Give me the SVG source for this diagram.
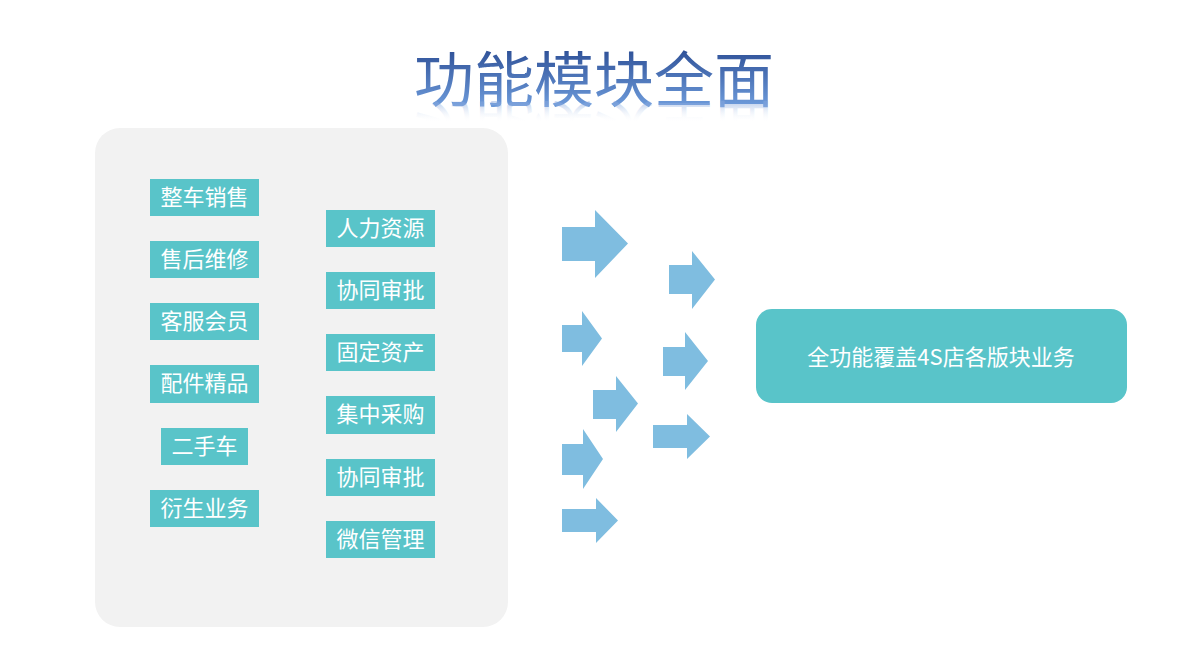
<svg xmlns="http://www.w3.org/2000/svg" width="1189" height="663" viewBox="0 0 1189 663">
<style>
.tag{fill:#59c4c9}
.tt{font-family:"Noto Sans CJK SC","Liberation Sans",sans-serif;font-size:22px;fill:#ffffff;text-anchor:middle}
.arr{fill:#7fbde0}
.title{font-family:"Noto Sans CJK SC","Liberation Sans",sans-serif;font-size:60px;text-anchor:middle}
</style>
<defs>
<linearGradient id="tg" x1="0" y1="48" x2="0" y2="104" gradientUnits="userSpaceOnUse">
<stop offset="0" stop-color="#2d4f96"/>
<stop offset="1" stop-color="#6b98d8"/>
</linearGradient>
<linearGradient id="rg" x1="0" y1="104" x2="0" y2="86" gradientUnits="userSpaceOnUse">
<stop offset="0" stop-color="#8aa9dd" stop-opacity="0.45"/>
<stop offset="1" stop-color="#ffffff" stop-opacity="0"/>
</linearGradient>
</defs>
<rect width="1189" height="663" fill="#ffffff"/>
<g id="title">
<text class="title" x="594" y="102" fill="url(#tg)">功能模块全面</text>
<g transform="translate(0,208) scale(1,-1)"><text class="title" x="594" y="102" fill="url(#rg)">功能模块全面</text></g>
</g>
<g id="panel"><rect x="95" y="128" width="413" height="499" rx="25" fill="#f2f2f2"/></g>
<g id="n1"><rect class="tag" x="150" y="179" width="109" height="37"/><text class="tt" x="204.5" y="205">整车销售</text></g>
<g id="n2"><rect class="tag" x="150" y="241" width="109" height="37"/><text class="tt" x="204.5" y="267">售后维修</text></g>
<g id="n3"><rect class="tag" x="150" y="303" width="109" height="37"/><text class="tt" x="204.5" y="329">客服会员</text></g>
<g id="n4"><rect class="tag" x="150" y="365" width="109" height="38"/><text class="tt" x="204.5" y="391">配件精品</text></g>
<g id="n5"><rect class="tag" x="161" y="428" width="87" height="37"/><text class="tt" x="204.5" y="454">二手车</text></g>
<g id="n6"><rect class="tag" x="150" y="490" width="109" height="37"/><text class="tt" x="204.5" y="516">衍生业务</text></g>
<g id="m1"><rect class="tag" x="326" y="210" width="109" height="37"/><text class="tt" x="380.5" y="236">人力资源</text></g>
<g id="m2"><rect class="tag" x="326" y="272" width="109" height="37"/><text class="tt" x="380.5" y="298">协同审批</text></g>
<g id="m3"><rect class="tag" x="326" y="334" width="109" height="37"/><text class="tt" x="380.5" y="360">固定资产</text></g>
<g id="m4"><rect class="tag" x="326" y="396" width="109" height="38"/><text class="tt" x="380.5" y="422">集中采购</text></g>
<g id="m5"><rect class="tag" x="326" y="459" width="109" height="37"/><text class="tt" x="380.5" y="485">协同审批</text></g>
<g id="m6"><rect class="tag" x="326" y="521" width="109" height="37"/><text class="tt" x="380.5" y="547">微信管理</text></g>
<g id="connectors">
<polygon class="arr" points="562,227 595,227 595,210 628,243.5 595,278 595,261 562,261"/>
<polygon class="arr" points="562,325 582,325 582,311 602,338.5 582,366 582,352 562,352"/>
<polygon class="arr" points="593,390 616,390 616,376 638,403.5 616,432 616,419 593,419"/>
<polygon class="arr" points="562,444 583,444 583,429 603,459 583,489 583,475 562,475"/>
<polygon class="arr" points="562,509 596,509 596,498 618,520.5 596,543 596,532 562,532"/>
<polygon class="arr" points="669,265 692,265 692,251 715,279.5 692,309 692,294 669,294"/>
<polygon class="arr" points="663,347 685,347 685,332 708,361 685,390 685,376 663,376"/>
<polygon class="arr" points="653,425 687,425 687,414 710,436.5 687,459 687,448 653,448"/>
</g>
<g id="result"><rect x="756" y="309" width="371" height="94" rx="16" fill="#59c4c9"/><text class="tt" x="941" y="365">全功能覆盖4S店各版块业务</text></g>
</svg>
